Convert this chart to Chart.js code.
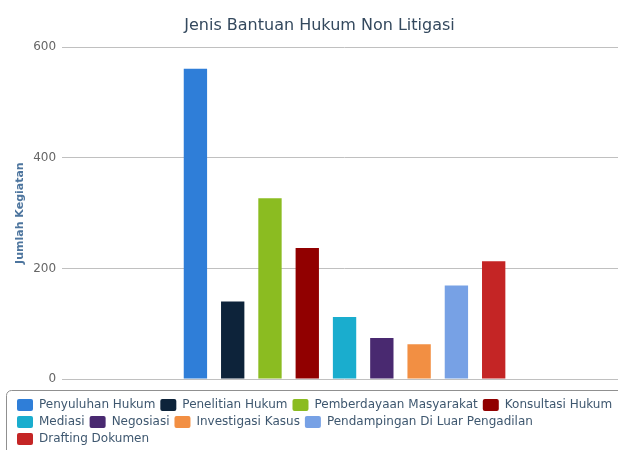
<!DOCTYPE html>
<html lang="id">
<head>
  <meta charset="UTF-8" />
  <title>Jenis Bantuan Hukum Non Litigasi</title>
  <script src="https://cdn.jsdelivr.net/npm/chart.js@4.4.0/dist/chart.umd.min.js"></script>
  <style>
    body {
      margin: 0;
      background: #fff;
    }

    .chart-container {
      width: 618px;
      height: 450px;
      overflow: hidden;
      position: relative;
    }

    canvas {
      display: block;
    }
  </style>
</head>
<body>
  <div class="chart-container">
    <canvas id="grafik" width="636" height="455"></canvas>
  </div>
  <script>
    // jenis bantuan (satu dataset per jenis)
    const jenis = [
      "Penyuluhan Hukum",
      "Penelitian Hukum",
      "Pemberdayaan Masyarakat",
      "Konsultasi Hukum",
      "Mediasi",
      "Negosiasi",
      "Investigasi Kasus",
      "Pendampingan Di Luar Pengadilan",
      "Drafting Dokumen"
    ];
    const jumlah = [561, 140, 327, 237, 112, 74, 63, 169, 213];
    const warna = ["#2f7ed8", "#0d233a", "#8bbc21", "#910000", "#1aadce",
      "#492970", "#f28f43", "#77a1e5", "#c42525"];
    const yTicks = [0, 200, 400, 600];

    // kotak bergaris di sekitar legenda
    const legendBorder = {
      id: "legendBorder",
      afterDraw(chart) {
        const lg = chart.legend;
        const ctx = chart.ctx;
        ctx.save();
        ctx.strokeStyle = "#909090";
        ctx.lineWidth = 1;
        ctx.beginPath();
        ctx.roundRect(lg.left - 5.5, lg.top - 3.5, lg.width + 20, lg.height + 20, 5);
        ctx.stroke();
        ctx.restore();
      }
    };

    Chart.defaults.font.family = "'DejaVu Sans', sans-serif";

    new Chart(document.getElementById("grafik"), {
      type: "bar",
      data: {
        labels: [""],
        datasets: jenis.map((j, i) => ({
          label: j,
          data: [jumlah[i]],
          backgroundColor: warna[i],
          borderWidth: 0
        }))
      },
      options: {
        responsive: false,
        animation: false,
        categoryPercentage: 0.594,
        barPercentage: 0.626,
        layout: {
          padding: { left: 12, right: 9, top: 0, bottom: 0 }
        },
        plugins: {
          title: {
            display: true,
            text: "Jenis Bantuan Hukum Non Litigasi",
            color: "#34495e",
            font: { size: 16, weight: "normal" },
            padding: { top: 16, bottom: 12 }
          },
          legend: {
            position: "bottom",
            align: "start",
            labels: {
              boxWidth: 16,
              boxHeight: 12,
              padding: 5,
              color: "#3e576f",
              font: { size: 12 },
              useBorderRadius: true,
              borderRadius: 2
            }
          },
          tooltip: { enabled: false }
        },
        scales: {
          x: {
            ticks: { display: false },
            grid: { display: false, drawTicks: true, tickLength: 15 },
            border: { display: false }
          },
          y: {
            min: 0,
            max: 600,
            afterBuildTicks: axis => {
              axis.ticks = yTicks.map(v => ({ value: v }));
            },
            ticks: {
              color: "#666",
              font: { size: 12 },
              padding: 6
            },
            grid: {
              color: "#c0c0c0",
              lineWidth: 1,
              drawTicks: false
            },
            border: { display: false },
            title: {
              display: true,
              text: "Jumlah Kegiatan",
              color: "#4d759e",
              font: { size: 11, weight: "bold" },
              padding: { top: 2, bottom: 0 }
            }
          }
        }
      },
      plugins: [legendBorder]
    });
  </script>
</body>
</html>
